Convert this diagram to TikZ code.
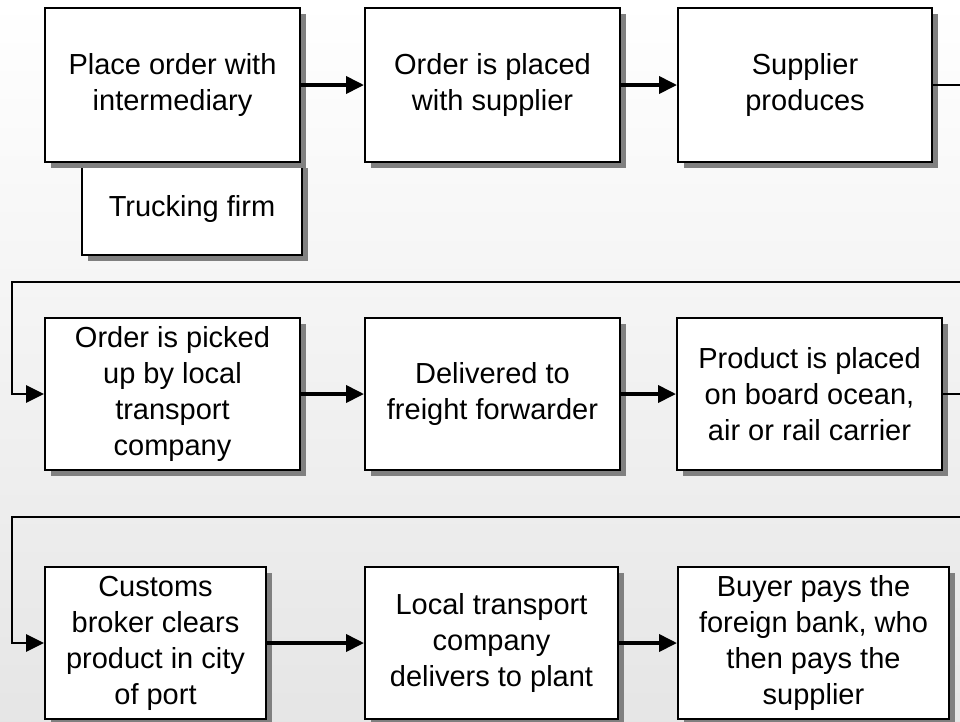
\documentclass[tikz,border=0pt]{standalone}
\usepackage{fontspec}
\setmainfont{Liberation Sans}
\usetikzlibrary{arrows.meta,shadows}
\begin{document}
\begin{tikzpicture}[x=1pt,y=-1pt,
  box/.style={draw=black, line width=2pt, fill=white, align=center, inner sep=0pt,
    font=\fontsize{29}{36}\selectfont,
    drop shadow={shadow xshift=6pt, shadow yshift=-6pt, fill=black!50, opacity=1}},
  flow/.style={line width=3.8pt, -{Triangle[length=18pt,width=17pt]}},
  ret/.style={line width=2.8pt},
  retarrow/.style={line width=2.8pt, -{Triangle[length=18pt,width=17pt]}}]
\useasboundingbox (0,0) rectangle (960,721);
\shade[top color=white, bottom color=black!10] (0,0) rectangle (960,721);
% row 1
\node[box, minimum width=220pt, minimum height=93pt] (tf) at (192,208.5) {Trucking firm};
\node[box, minimum width=255pt, minimum height=154pt] (b1) at (172.5,85) {Place order with\\intermediary};
\node[box, minimum width=255pt, minimum height=154pt] (b2) at (492.5,85) {Order is placed\\with supplier};
\node[box, minimum width=254pt, minimum height=154pt] (b3) at (805,85) {Supplier\\produces};
% row 2
\node[box, minimum width=255pt, minimum height=152pt] (b4) at (172.5,394) {Order is picked\\up by local\\transport\\company};
\node[box, minimum width=255pt, minimum height=152pt] (b5) at (492.5,394) {Delivered to\\freight forwarder};
\node[box, minimum width=265pt, minimum height=152pt] (b6) at (809.5,394) {Product is placed\\on board ocean,\\air or rail carrier};
% row 3
\node[box, minimum width=221pt, minimum height=152pt] (b7) at (155.5,643) {Customs\\broker clears\\product in city\\of port};
\node[box, minimum width=253pt, minimum height=152pt] (b8) at (491.5,643) {Local transport\\company\\delivers to plant};
\node[box, minimum width=271pt, minimum height=152pt] (b9) at (813.5,643) {Buyer pays the\\foreign bank, who\\then pays the\\supplier};
% connectors
\coordinate (e1) at (960,85);
\coordinate (s2a) at (960,282);
\coordinate (s2b) at (12,282);
\coordinate (e2) at (960,394);
\coordinate (s3a) at (960,517);
\coordinate (s3b) at (12,517);
\draw[flow] (b1) -- (b2);
\draw[flow] (b2) -- (b3);
\draw[ret] (b3.east) -- (e1);
\draw[retarrow] (s2a) -- (s2b) |- (b4.west);
\draw[flow] (b4) -- (b5);
\draw[flow] (b5) -- (b6);
\draw[ret] (b6.east) -- (e2);
\draw[retarrow] (s3a) -- (s3b) |- (b7.west);
\draw[flow] (b7) -- (b8);
\draw[flow] (b8) -- (b9);
\end{tikzpicture}
\end{document}
